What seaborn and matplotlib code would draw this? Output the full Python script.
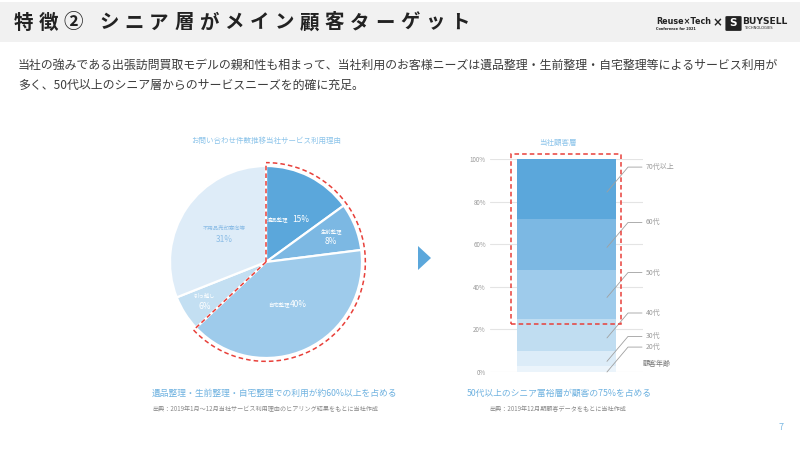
import matplotlib
matplotlib.use("Agg")
import matplotlib.pyplot as plt
import matplotlib.patches as mpatches
from matplotlib.lines import Line2D
import numpy as np
import pandas as pd
import seaborn as sns

# ---------------- data ----------------
pie_labels = ["遺品整理", "生前整理", "自宅整理", "引っ越し", "不用品売却意向等"]
pie_values = [15, 8, 40, 6, 31]
pie_colors = ["#5ba7db", "#7cb8e3", "#9ecbeb", "#c3dff2", "#deecf8"]

age_labels = ["20代", "30代", "40代", "50代", "60代", "70代以上"]
age_values = [3, 7, 15, 23, 24, 28]
age_colors = ["#ebf4fb", "#dcecf8", "#c0ddf1", "#9ecbeb", "#7cb8e3", "#5ba7db"]
yticks = [0, 20, 40, 60, 80, 100]

title_head = "特徴②"
title_tail = "シニア層がメイン顧客ターゲット"
body1 = "当社の強みである出張訪問買取モデルの親和性も相まって、当社利用のお客様ニーズは遺品整理・生前整理・自宅整理等によるサービス利用が"
body2 = "多く、50代以上のシニア層からのサービスニーズを的確に充足。"
pie_title = "お問い合わせ件数推移当社サービス利用理由"
bar_title = "当社顧客層"
cap_left = "遺品整理・生前整理・自宅整理での利用が約60%以上を占める"
src_left = "出典：2019年1月～12月当社サービス利用理由のヒアリング結果をもとに当社作成"
cap_right = "50代以上のシニア富裕層が顧客の75%を占める"
src_right = "出典：2019年12月期顧客データをもとに当社作成"

sns.set_theme(style="white")
plt.rcParams["font.family"] = ["Noto Sans CJK JP", "DejaVu Sans"]

W, H = 800, 450
fig = plt.figure(figsize=(8, 4.5), dpi=100)
fig.patch.set_facecolor("white")


def fx(x):
    return x / W


def fy(y):
    return 1 - y / H


RED = "#e8403a"

# ---------------- header ----------------
fig.patches.append(mpatches.Rectangle((0, fy(42)), 1, 40 / H, transform=fig.transFigure,
                                      facecolor="#f1f1f1", edgecolor="none", zorder=0))
# title with wide letter spacing
xpos = 14
for ch in title_head:
    fig.text(fx(xpos), fy(23), ch, fontsize=14, fontweight="bold", color="#222222",
             va="center", ha="left")
    xpos += 24.5
xpos = 99
for ch in title_tail:
    fig.text(fx(xpos), fy(23), ch, fontsize=14, fontweight="bold", color="#222222",
             va="center", ha="left")
    xpos += 25.1

# logo
fig.text(fx(656), fy(21), "Reuse×Tech", fontsize=5.8, fontweight="bold", color="#222",
         va="center", ha="left", family=["DejaVu Sans"])
fig.text(fx(656), fy(28.5), "Conference for 2021", fontsize=2.5, fontweight="bold", color="#222",
         va="center", ha="left", family=["DejaVu Sans"])
fig.text(fx(713), fy(23), "×", fontsize=8.5, fontweight="bold", color="#222", va="center", ha="left",
         family=["DejaVu Sans"])
fig.patches.append(mpatches.FancyBboxPatch((fx(727), fy(30)), 13 / W, 13 / H, transform=fig.transFigure,
                                           boxstyle="round,pad=0.002", facecolor="#222", edgecolor="none"))
fig.text(fx(733.5), fy(23.5), "S", fontsize=7.5, fontweight="bold", color="white", va="center", ha="center",
         family=["DejaVu Sans"])
fig.text(fx(742), fy(21), "BUYSELL", fontsize=6.6, fontweight="bold", color="#222", va="center", ha="left",
         family=["DejaVu Sans"])
fig.text(fx(744), fy(28.3), "TECHNOLOGIES", fontsize=2.6, color="#222", va="center", ha="left",
         family=["DejaVu Sans"])

# body text
fig.text(fx(18), fy(65), body1, fontsize=8.6, color="#3c3c3c", va="center", ha="left")
fig.text(fx(18), fy(85), body2, fontsize=8.6, color="#3c3c3c", va="center", ha="left")

# ---------------- pie ----------------
cx, cy, R = 266, 262, 96
span = 1.15
size = 2 * span * R
axp = fig.add_axes([fx(cx - size / 2), fy(cy + size / 2), size / W, size / H])
wedges, _ = axp.pie(pie_values, colors=pie_colors, startangle=90, counterclock=False,
                    radius=1, wedgeprops=dict(edgecolor="white", linewidth=1.6))
axp.set_xlim(-span, span)
axp.set_ylim(-span, span)
axp.set_aspect("equal")
axp.axis("off")

# labels inside wedges
label_r = [0.5, 0.73, 0.49, 0.76, 0.53]
txt_cols = ["white", "white", "white", "white", "#8cbde6"]
tot = sum(pie_values)
cum = 0
for lab, v, r, tc in zip(pie_labels, pie_values, label_r, txt_cols):
    mid = np.deg2rad(90 - (cum + v / 2) / tot * 360)
    cum += v
    x, y = r * np.cos(mid), r * np.sin(mid)
    pct = f"{v}%"
    if lab == "遺品整理":
        axp.text(x + 0.0, y, lab, fontsize=3.9, color=tc, ha="right", va="center")
        axp.text(x + 0.05, y, pct, fontsize=6, color=tc, ha="left", va="center")
    elif lab == "自宅整理":
        axp.text(x + 0.04, y, lab, fontsize=3.9, color=tc, ha="right", va="center")
        axp.text(x + 0.04, y, pct, fontsize=6, color=tc, ha="left", va="center")
    else:
        axp.text(x, y + 0.05, lab, fontsize=3.9, color=tc, ha="center", va="center")
        axp.text(x, y - 0.06, pct, fontsize=6, color=tc, ha="center", va="center")

# red dashed outline for first three slices
share = sum(pie_values[:3]) / tot
end_ang = 90 - share * 360
rr = 1.035
axp.add_patch(mpatches.Arc((0, 0), 2 * rr, 2 * rr, theta1=end_ang, theta2=90,
                           color=RED, lw=1.1, ls=(0, (3, 2))))
axp.plot([0, 0], [0, rr], color=RED, lw=1.1, ls=(0, (3, 2)))
axp.plot([0, rr * np.cos(np.deg2rad(end_ang))], [0, rr * np.sin(np.deg2rad(end_ang))],
         color=RED, lw=1.1, ls=(0, (3, 2)))

fig.text(fx(266), fy(141), pie_title, fontsize=5.4, color="#8cc4ea", ha="center", va="center")

# ---------------- arrow ----------------
fig.patches.append(mpatches.Polygon([(fx(418), fy(246)), (fx(418), fy(270)), (fx(431), fy(258))],
                                    closed=True, transform=fig.transFigure,
                                    facecolor="#5ba7db", edgecolor="none"))

# ---------------- stacked bar ----------------
ax = fig.add_axes([fx(490), fy(372), 153 / W, 213 / H])
cum_vals = np.cumsum(age_values)
df = pd.DataFrame({"g": ["当社"] * len(age_values), "cum": cum_vals, "age": age_labels})
for i in range(len(age_values) - 1, -1, -1):
    sns.barplot(data=df.iloc[[i]], x="g", y="cum", color=age_colors[i], saturation=1,
                width=0.8, ax=ax, edgecolor="none", linewidth=0, zorder=2)
ax.set_xlim(-0.618, 0.618)
ax.set_ylim(0, 100)
ax.set_yticks(yticks)
ax.set_yticklabels([f"{t}%" for t in yticks], fontsize=4.5, color="#999999")
ax.set_xticks([])
ax.set_xlabel("")
ax.set_ylabel("")
ax.tick_params(axis="y", length=0, pad=3)
for s in ax.spines.values():
    s.set_visible(False)
ax.set_axisbelow(True)
for t in yticks:
    ax.axhline(t, color="#e4e4e4", lw=0.8, zorder=1)
ax.patch.set_alpha(0)

# leader lines & labels
bottoms = cum_vals - np.array(age_values)
for lab, b, v in zip(age_labels, bottoms, age_values):
    start = b + v / 2 - 1.5
    elbow = start + 11.7
    ax.add_line(Line2D([0.327, 0.497, 0.61], [start, elbow, elbow], color="#a0a0a0", lw=0.6,
                       clip_on=False, zorder=3))
    ax.text(0.64, elbow, lab, fontsize=5, color="#999999", ha="left", va="center", clip_on=False)
ax.text(0.62, 3.8, "顧客年齢", fontsize=5, color="#777777", ha="left", va="center", clip_on=False)

# red dashed rectangle around 50代以上
fig.patches.append(mpatches.Rectangle((fx(511), fy(324)), 110 / W, 170 / H, transform=fig.transFigure,
                                      fill=False, edgecolor=RED, lw=1.1, ls=(0, (3, 2)), zorder=5))

fig.text(fx(558), fy(143), bar_title, fontsize=5.4, color="#8cc4ea", ha="center", va="center")

# ---------------- captions ----------------
fig.text(fx(152), fy(393), cap_left, fontsize=6.3, color="#6fb2e0", ha="left", va="center")
fig.text(fx(152), fy(409), src_left, fontsize=4.4, color="#888888", ha="left", va="center")
fig.text(fx(559), fy(393), cap_right, fontsize=6.3, color="#6fb2e0", ha="center", va="center")
fig.text(fx(558), fy(409), src_right, fontsize=4.4, color="#888888", ha="center", va="center")

fig.text(fx(781), fy(428), "7", fontsize=6.5, color="#7ab8e3", ha="center", va="center")

fig.savefig("out.png", dpi=100)
